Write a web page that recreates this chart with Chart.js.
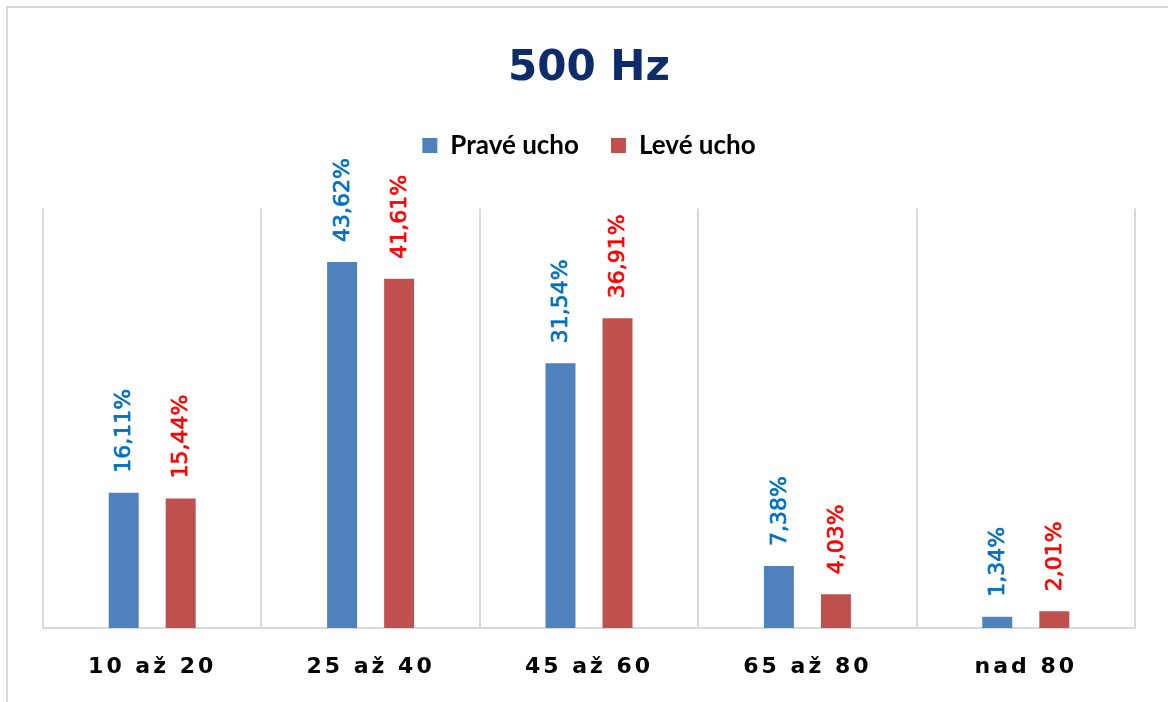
<!DOCTYPE html>
<html>
<head>
<meta charset="utf-8">
<script src="https://cdn.jsdelivr.net/npm/chart.js@4/dist/chart.umd.min.js"></script>
<style>
  html, body { margin: 0; padding: 0; background: #ffffff; }
  #c { display: block; }
</style>
</head>
<body>
<canvas id="c" width="1168" height="702"></canvas>
<script>
// Age groups and hearing loss shares at 500 Hz (percent)
const categories = ['10 až 20', '25 až 40', '45 až 60', '65 až 80', 'nad 80'];
const praveUcho = [16.11, 43.62, 31.54, 7.38, 1.34];
const leveUcho = [15.44, 41.61, 36.91, 4.03, 2.01];
const seriesNames = ['Pravé ucho', 'Levé ucho'];
const chartTitle = '500 Hz';

const barColors = ['#4F81BD', '#C0504D'];
const valueLabelColors = ['#0070C0', '#FF0000'];
const gridColor = '#D9D9D9';

const formatPercent = v => v.toFixed(2).replace('.', ',') + '%';

// White background plus the light frame around the chart
const framePlugin = {
  id: 'frame',
  beforeDraw(chart) {
    const ctx = chart.ctx;
    ctx.save();
    ctx.fillStyle = '#ffffff';
    ctx.fillRect(0, 0, chart.width, chart.height);
    ctx.strokeStyle = gridColor;
    ctx.lineWidth = 2;
    ctx.strokeRect(7, 7, chart.width + 20, chart.height + 20);
    ctx.restore();

    // spaced-out category labels
    const xs = chart.scales.x;
    if (xs && !xs._spacedLabels) {
      const orig = xs.drawLabels;
      xs.drawLabels = function (area) {
        this.ctx.save();
        this.ctx.letterSpacing = '3px';
        orig.call(this, area);
        this.ctx.restore();
      };
      xs._spacedLabels = true;
    }
  },
  beforeLayout(chart) {
    // leave a gap between the legend row and the plot area
    const lg = chart.legend;
    if (lg && !lg._extraGap) {
      const origFit = lg.fit;
      lg.fit = function () {
        origFit.call(this);
        this.height += 40;
      };
      lg._extraGap = true;
    }
  }
};

// Rotated value labels above each bar
const valueLabelPlugin = {
  id: 'valueLabels',
  afterDatasetsDraw(chart) {
    const ctx = chart.ctx;
    chart.data.datasets.forEach((ds, i) => {
      const meta = chart.getDatasetMeta(i);
      meta.data.forEach((bar, j) => {
        const text = formatPercent(ds.data[j]);
        ctx.save();
        ctx.font = '22px "DejaVu Sans"';
        ctx.fillStyle = valueLabelColors[i];
        ctx.strokeStyle = valueLabelColors[i];
        ctx.lineWidth = 0.7;
        ctx.textAlign = 'left';
        ctx.textBaseline = 'middle';
        ctx.translate(bar.x + 1, bar.y - 20);
        ctx.rotate(-Math.PI / 2);
        ctx.fillText(text, 0, 0);
        ctx.strokeText(text, 0, 0);
        ctx.restore();
      });
    });
  }
};

new Chart(document.getElementById('c'), {
  type: 'bar',
  data: {
    labels: categories,
    datasets: [
      { label: seriesNames[0], data: praveUcho, backgroundColor: barColors[0], borderWidth: 0 },
      { label: seriesNames[1], data: leveUcho, backgroundColor: barColors[1], borderWidth: 0 }
    ]
  },
  options: {
    responsive: false,
    devicePixelRatio: 1,
    animation: false,
    events: [],
    categoryPercentage: 0.522,
    barPercentage: 0.526,
    layout: { padding: { top: 0, left: 43, right: 33, bottom: 21 } },
    plugins: {
      title: {
        display: true,
        text: chartTitle,
        color: '#0E2B6C',
        font: { family: '"DejaVu Sans"', size: 42, weight: 'bold' },
        padding: { top: 44, bottom: 6 }
      },
      legend: {
        display: true,
        position: 'top',
        align: 'center',
        labels: {
          boxWidth: 15,
          boxHeight: 15,
          padding: 32,
          color: '#000000',
          font: { family: 'Lato', size: 26, weight: 'bold' }
        }
      },
      tooltip: { enabled: false }
    },
    scales: {
      x: {
        offset: true,
        grid: { display: true, offset: true, color: gridColor, lineWidth: 2, drawTicks: false },
        border: { display: true, color: gridColor, width: 2 },
        ticks: {
          color: '#000000',
          padding: 26,
          font: { family: '"DejaVu Sans"', size: 22, weight: 'bold' }
        },
        afterFit(scale) {
          scale.height = 53;
        }
      },
      y: {
        display: false,
        min: 0,
        max: 50
      }
    }
  },
  plugins: [framePlugin, valueLabelPlugin]
});
</script>
</body>
</html>
